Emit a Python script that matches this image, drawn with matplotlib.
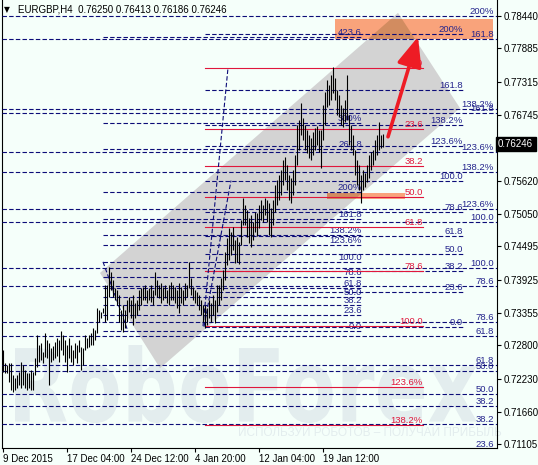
import numpy as np
import matplotlib
matplotlib.use('Agg')
import matplotlib.pyplot as plt
import matplotlib.transforms as mtransforms
from matplotlib.patches import Polygon, Rectangle, PathPatch
from matplotlib.textpath import TextPath
from matplotlib.font_manager import FontProperties
from matplotlib.ticker import FormatStrFormatter

plt.rcParams['font.family'] = ['Liberation Sans', 'DejaVu Sans']

# EURGBP H4 bars, high / low in 1e-4 price units
bar_high_pips = [
    7272, 7250, 7246, 7250, 7250, 7229, 7224, 7229, 7234, 7252, 7246, 7238, 7233, 7233, 7238, 7234,
    7258, 7298, 7281, 7284, 7269, 7301, 7289, 7284, 7276, 7279, 7286, 7293, 7289, 7305, 7298, 7289,
    7281, 7293, 7281, 7272, 7284, 7281, 7289, 7277, 7276, 7298, 7293, 7298, 7301, 7310, 7306, 7344,
    7341, 7337, 7344, 7383, 7383, 7414, 7406, 7392, 7378, 7375, 7366, 7341, 7349, 7341, 7358, 7363,
    7358, 7366, 7353, 7358, 7375, 7378, 7380, 7383, 7375, 7378, 7383, 7375, 7406, 7392, 7383, 7387,
    7380, 7383, 7375, 7383, 7388, 7383, 7380, 7375, 7387, 7380, 7375, 7387, 7383, 7423, 7395, 7380,
    7375, 7371, 7366, 7358, 7349, 7349, 7344, 7358, 7353, 7366, 7358, 7383, 7383, 7395, 7409, 7440,
    7464, 7481, 7474, 7483, 7460, 7466, 7457, 7495, 7532, 7520, 7512, 7498, 7503, 7491, 7508, 7507,
    7520, 7529, 7520, 7532, 7529, 7524, 7515, 7529, 7554, 7563, 7572, 7580, 7597, 7602, 7589, 7572,
    7566, 7580, 7606, 7657, 7666, 7695, 7669, 7657, 7649, 7640, 7635, 7645, 7652, 7655, 7649, 7649,
    7691, 7714, 7734, 7726, 7743, 7756, 7738, 7717, 7708, 7691, 7686, 7700, 7743, 7674, 7657, 7640,
    7614, 7597, 7589, 7572, 7580, 7575, 7589, 7606, 7611, 7614, 7631, 7640, 7662, 7640, 7641,
]
bar_low_pips = [
    7234, 7233, 7233, 7217, 7204, 7200, 7204, 7207, 7212, 7207, 7212, 7207, 7204, 7207, 7204, 7204,
    7229, 7243, 7252, 7255, 7250, 7260, 7258, 7212, 7252, 7255, 7258, 7262, 7252, 7272, 7264, 7252,
    7234, 7258, 7252, 7246, 7258, 7250, 7269, 7238, 7246, 7272, 7276, 7277, 7281, 7281, 7289, 7301,
    7320, 7327, 7335, 7320, 7323, 7363, 7375, 7363, 7358, 7349, 7320, 7306, 7303, 7310, 7320, 7337,
    7327, 7315, 7327, 7332, 7341, 7349, 7358, 7358, 7353, 7358, 7354, 7349, 7366, 7363, 7361, 7353,
    7358, 7361, 7353, 7349, 7358, 7358, 7353, 7344, 7335, 7353, 7349, 7358, 7363, 7378, 7366, 7358,
    7353, 7349, 7341, 7332, 7320, 7310, 7315, 7327, 7320, 7332, 7318, 7337, 7349, 7358, 7375, 7392,
    7418, 7426, 7435, 7443, 7421, 7423, 7419, 7452, 7486, 7486, 7466, 7455, 7448, 7460, 7474, 7467,
    7481, 7495, 7491, 7503, 7491, 7469, 7466, 7486, 7508, 7520, 7529, 7537, 7554, 7563, 7546, 7529,
    7524, 7537, 7554, 7589, 7614, 7640, 7631, 7614, 7609, 7601, 7597, 7606, 7614, 7623, 7611, 7584,
    7631, 7657, 7688, 7691, 7700, 7712, 7700, 7674, 7671, 7657, 7654, 7662, 7666, 7623, 7614, 7606,
    7572, 7554, 7546, 7524, 7546, 7551, 7560, 7566, 7580, 7589, 7597, 7606, 7614, 7618, 7619,
]

symbol = 'EURGBP,H4'
last_ohlc = [0.76250, 0.76413, 0.76186, 0.76246]
time_tick_bars = [0, 32, 64, 96, 128, 160]
time_tick_labels = ['9 Dec 2015', '17 Dec 04:00', '24 Dec 12:00', '4 Jan 20:00', '12 Jan 04:00', '19 Jan 12:00']
price_ticks = [0.78440, 0.77885, 0.77315, 0.76745, 0.75620, 0.75050, 0.74495,
               0.73925, 0.73355, 0.72800, 0.72230, 0.71660, 0.71105]

LEVEL_TEXT = {0.0: '0.0', 0.236: '23.6', 0.382: '38.2', 0.5: '50.0', 0.618: '61.8',
              0.786: '78.6', 1.0: '100.0', 1.236: '123.6%', 1.382: '138.2%', 1.618: '161.8',
              2.0: '200%', 2.618: '261.8', 3.0: '300%', 4.236: '423.6'}

# fibonacci tools: price at 0 %, price at 100 %
fib_red_prices = [0.7755, 0.7313]
fib_red_levels = [0.0, 0.236, 0.382, 0.5, 0.618, 0.786, 1.0, 1.236, 1.382]
fib_c_prices = [0.7312, 0.7562]
fib_c_levels = [0.0, 0.236, 0.382, 0.5, 0.618, 0.786, 1.0, 1.236, 1.382, 1.618, 2.0]
fib_b_prices = [0.7304, 0.7423]
fib_b_levels = [0.0, 0.236, 0.382, 0.5, 0.618, 0.786, 1.0, 1.236, 1.382, 1.618, 2.0, 2.618, 3.0, 4.236]
fib_a1_prices = [0.6983, 0.7491]
fib_a1_levels = [0.236, 0.382, 0.5, 0.618, 0.786, 1.0, 1.236, 1.382, 1.618]
fib_a2_prices = [0.6981, 0.7412]
fib_a2_levels = [0.382, 0.5, 0.618, 0.786, 1.0, 1.236, 1.382, 1.618, 2.0]

# fib trend lines (bar, price) pairs
trend_lines = [[(100, 0.7313), (112.5, 0.7755)],
               [(100.5, 0.7312), (114, 0.7562)],
               [(50, 0.7423), (62.5, 0.7304)]]

channel_bars = [48.5, 78.5, 228.5, 197.5]
channel_prices = [0.7404, 0.7241, 0.7686, 0.7849]

zone_bars = [(166, 245), (162, 201)]
zone_prices = [(0.7804, 0.7839), (0.7530, 0.7541)]

arrow_from = (192.5, 0.7637)
arrow_to = (207.5, 0.7808)

NAVY = '#0c0c78'
NAVY_TXT = '#24248c'
RED = '#e0173c'
BG = '#f5fffa'
DASH = (0, (4, 2))

fig = plt.figure(figsize=(5.38, 4.65), dpi=100, facecolor=BG)
ax = fig.add_axes([2 / 538, 17 / 465, 495 / 538, 448 / 465])
ax.set_facecolor(BG)
ax.set_xlim(-0.5, 247)
ax.set_ylim(0.71045, 0.78710)

# watermark
wm_col = '#e3edee'
tp = TextPath((0, 0), 'RoboForex', size=1, prop=FontProperties(family='DejaVu Sans', weight='bold'))
bb = tp.get_extents()
wm_tr = mtransforms.Affine2D().translate(-bb.x0, -bb.y0).scale(462 / bb.width, 78 / bb.height).translate(15, 42)
ax.add_patch(PathPatch(tp, transform=wm_tr, fc=wm_col, ec='none', zorder=0.5))
ax.text(238, 32, 'ИСПОЛЬЗУЙ РОБОТОВ – ПОЛУЧАЙ ПРИБЫЛЬ', transform=mtransforms.IdentityTransform(),
        fontsize=8.5, color=wm_col, ha='left', va='center', zorder=0.6)

# channel
channel = Polygon(list(zip(channel_bars, channel_prices)), closed=True, fc='#d3d3d3', ec='none', zorder=1)
ax.add_patch(channel)

# target zones
for (b0, b1), (p0, p1) in zip(zone_bars, zone_prices):
    ax.add_patch(Rectangle((b0, p0), b1 - b0, p1 - p0, fc='#f9a37b', ec='none', zorder=1.5))
    dark = Rectangle((b0, p0), b1 - b0, p1 - p0, fc='#d28c60', ec='none', zorder=1.6)
    ax.add_patch(dark)
    dark.set_clip_path(channel)


def draw_fib(prices, levels, b0, b1, line_col, txt_col, ls, text_bar):
    p0, p100 = prices
    for lv in levels:
        price = p0 + lv * (p100 - p0)
        ax.plot([b0, b1], [price, price], color=line_col, lw=0.8, ls=ls, zorder=3)
        ax.text(text_bar, price, LEVEL_TEXT[lv], ha='right', va='bottom', fontsize=6.8,
                color=txt_col, zorder=3)


draw_fib(fib_a1_prices, fib_a1_levels, -0.5, 247, NAVY, NAVY_TXT, DASH, 245.5)
draw_fib(fib_a2_prices, fib_a2_levels, -0.5, 247, NAVY, NAVY_TXT, DASH, 245.5)
draw_fib(fib_b_prices, fib_b_levels, 50, 179.5, NAVY, NAVY_TXT, DASH, 179.5)
draw_fib(fib_c_prices, fib_c_levels, 101, 230, NAVY, NAVY_TXT, DASH, 230)
draw_fib(fib_red_prices, fib_red_levels, 101, 210, RED, RED, '-', 210)

for (b0, p0), (b1, p1) in trend_lines:
    ax.plot([b0, b1], [p0, p1], color=NAVY, lw=0.8, ls=DASH, zorder=3)

# price bars
idx = np.arange(len(bar_high_pips))
ax.vlines(idx, np.array(bar_low_pips) / 1e4, np.array(bar_high_pips) / 1e4,
          color='black', lw=0.8, zorder=4)

# arrow
ax.annotate('', xy=arrow_to, xytext=arrow_from, zorder=5,
            arrowprops=dict(arrowstyle='-|>,head_length=0.9,head_width=0.38', lw=2.6,
                            color='#ee1c25', mutation_scale=20, shrinkA=0, shrinkB=0))

# axes styling
ax.spines['top'].set_visible(False)
for side in ['left', 'right', 'bottom']:
    ax.spines[side].set_linewidth(0.8)
    ax.spines[side].set_color('black')

ax.yaxis.tick_right()
ax.set_yticks(price_ticks)
ax.yaxis.set_major_formatter(FormatStrFormatter('%.5f'))
ax.tick_params(axis='y', length=3, width=0.8, pad=2, labelsize=7, colors='black')
ax.set_xticks(time_tick_bars)
ax.set_xticklabels(time_tick_labels)
ax.tick_params(axis='x', length=3, width=0.8, pad=1.5, labelsize=7, colors='black')
for lbl in ax.get_xticklabels():
    lbl.set_ha('left')

# current price box
ax.text(1.002, last_ohlc[3], '%.5f' % last_ohlc[3],
        transform=mtransforms.blended_transform_factory(ax.transAxes, ax.transData),
        ha='left', va='center', color='white', fontsize=7, zorder=6, clip_on=False,
        bbox=dict(boxstyle='square,pad=0.25', fc='black', ec='black'))

# header
fig.text(4 / 538, 1 - 10 / 465, '▼', fontsize=5.5, family='DejaVu Sans', va='center', ha='left')
fig.text(18 / 538, 1 - 10 / 465, symbol + '  ' + ' '.join('%.5f' % v for v in last_ohlc),
         fontsize=7, va='center', ha='left', color='black')

fig.savefig('out.png', dpi=100, facecolor=BG)
